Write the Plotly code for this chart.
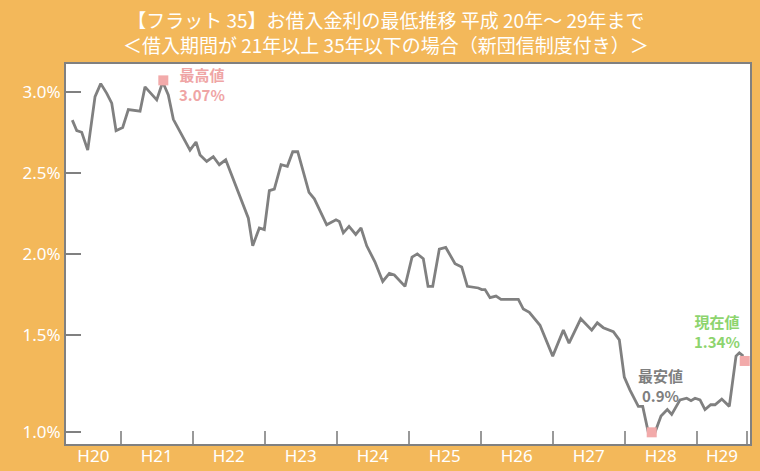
import plotly.graph_objects as go

# months since April 2008 (H20 fiscal start) and minimum Flat35 rate (%)
months = [3.93, 4.67, 5.5, 6.5, 7.72, 8.67, 9.67, 10.5, 11.22, 12.33, 13.27, 15.22, 16.05,
          18.0, 19.0, 19.93, 20.77, 23.55, 24.55, 25.22, 26.33, 27.43, 28.43, 29.5, 33.27,
          34.0, 35.1, 35.93, 36.77, 37.6, 38.72, 39.77, 40.67, 41.5, 43.38, 44.27, 46.33,
          47.88, 48.43, 49.1, 50.05, 51.17, 52.05, 53.0, 54.38, 55.67, 56.77, 57.6, 59.38,
          60.55, 61.43, 62.43, 63.22, 64.0, 65.1, 66.17, 67.72, 68.83, 69.77, 71.6, 72.17,
          72.72, 73.55, 74.55, 75.38, 78.27, 79.1, 80.1, 81.88, 84.0, 85.77, 86.72, 88.67,
          90.5, 91.43, 92.43, 94.1, 95.1, 95.93, 96.88, 98.27, 99.0, 99.93, 101.05, 102.05,
          103.1, 103.83, 105.22, 106.33, 107.05, 107.72, 108.55, 109.38, 110.33, 111.05,
          112.17, 113.43, 114.55, 115.1, 115.77]
rates = [2.825, 2.76, 2.75, 2.64, 2.97, 3.05, 2.99, 2.93, 2.76, 2.78, 2.89, 2.88, 3.03,
         2.95, 3.06, 2.98, 2.83, 2.64, 2.69, 2.61, 2.57, 2.60, 2.55, 2.58, 2.22,
         2.05, 2.16, 2.15, 2.39, 2.40, 2.55, 2.54, 2.63, 2.63, 2.38, 2.34, 2.18,
         2.21, 2.20, 2.13, 2.17, 2.12, 2.16, 2.05, 1.95, 1.83, 1.88, 1.87, 1.80,
         1.98, 2.00, 1.97, 1.80, 1.80, 2.03, 2.04, 1.94, 1.92, 1.80, 1.79, 1.78,
         1.78, 1.73, 1.74, 1.72, 1.72, 1.66, 1.64, 1.56, 1.37, 1.53, 1.45, 1.60,
         1.53, 1.575, 1.545, 1.52, 1.47, 1.24, 1.16, 1.06, 1.06, 0.90, 0.90, 1.00,
         1.04, 1.01, 1.10, 1.11, 1.095, 1.11, 1.10, 1.04, 1.07, 1.07,
         1.105, 1.06, 1.37, 1.39, 1.37]

# highlighted points: highest, lowest, current
mark_months = [19.1, 100.5, 116.0]
mark_rates = [3.07, 0.90, 1.34]
mark_titles = ["最高値", "最安値", "現在値"]
mark_texts = ["3.07%", "0.9%", "1.34%"]
mark_colors = ["#EFA5A5", "#7F7F7F", "#8DD46E"]

# x axis: fiscal year boundaries and labels
year_bounds = [12, 24, 36, 48, 60, 72, 84, 96, 108, 116.3]
year_label_pos = [7.44, 18, 30, 42, 54, 66, 78, 90, 102, 112.2]
year_labels = ["H20", "H21", "H22", "H23", "H24", "H25", "H26", "H27", "H28", "H29"]

# y axis ticks
y_tickvals = [0.9, 1.5, 2.0, 2.5, 3.0]
y_ticktext = ["1.0%", "1.5%", "2.0%", "2.5%", "3.0%"]

title_lines = ["【フラット 35】お借入金利の最低推移 平成 20年～ 29年まで",
               "＜借入期間が 21年以上 35年以下の場合（新団信制度付き）＞"]

ORANGE = "#F3B85A"
GRAY = "#808080"
FONT = "Noto Sans"
JFONT = "Noto Sans CJK JP"

fig = go.Figure()
fig.add_trace(go.Scatter(x=months, y=rates, mode="lines",
                         line=dict(color=GRAY, width=2.8), hoverinfo="skip"))
fig.add_trace(go.Scatter(x=mark_months, y=mark_rates, mode="markers",
                         marker=dict(symbol="square", size=10, color="#F2AAAA"),
                         hoverinfo="skip"))

# label offsets (data units) for the highlighted labels (two-line block centre)
lab_dx = [6.4, 1.4, -4.6]
lab_dy = [-0.028, 0.29, 0.18]
for i in range(3):
    fig.add_annotation(x=mark_months[i] + lab_dx[i], y=mark_rates[i] + lab_dy[i],
                       text="<b>" + mark_titles[i] + "<br>" + mark_texts[i] + "</b>",
                       showarrow=False, align="center",
                       font=dict(family=JFONT, size=15, color=mark_colors[i]),
                       xanchor="center", yanchor="middle")

plot_h = 471 - 64 - 27
fig.add_annotation(x=(386 - 66) / (760 - 66 - 10), y=1 + (64 - 32) / plot_h,
                   xref="paper", yref="paper", xanchor="center", yanchor="middle",
                   text="<br>".join(title_lines), showarrow=False, align="center",
                   font=dict(family=JFONT, size=19, color="white"))

fig.update_layout(
    width=760, height=471,
    margin=dict(l=66, r=10, t=64, b=27, autoexpand=False),
    paper_bgcolor=ORANGE, plot_bgcolor="white",
    showlegend=False,
    xaxis=dict(range=[2.88, 116.88], showgrid=False, zeroline=False, automargin=False,
               tickmode="array", tickvals=year_label_pos, ticktext=year_labels,
               ticks="", ticklabelstandoff=-4,
               tickfont=dict(family=FONT, size=17, color="white"),
               showline=True, linecolor=GRAY, linewidth=2, mirror=True,
               minor=dict(tickmode="array", tickvals=year_bounds, ticks="inside",
                          ticklen=13, tickwidth=1.5, tickcolor="#999999", showgrid=False)),
    yaxis=dict(range=[0.828, 3.171], showgrid=False, zeroline=False, automargin=False,
               tickmode="array", tickvals=y_tickvals, ticktext=y_ticktext,
               ticks="inside", ticklen=15, tickwidth=2, tickcolor=GRAY,
               tickfont=dict(family=FONT, size=17, color="white"),
               showline=True, linecolor=GRAY, linewidth=2, mirror=True),
)

fig.write_html("out.html", config={"displayModeBar": False},
               post_script="document.body.style.margin='0';document.body.style.overflow='hidden';")
